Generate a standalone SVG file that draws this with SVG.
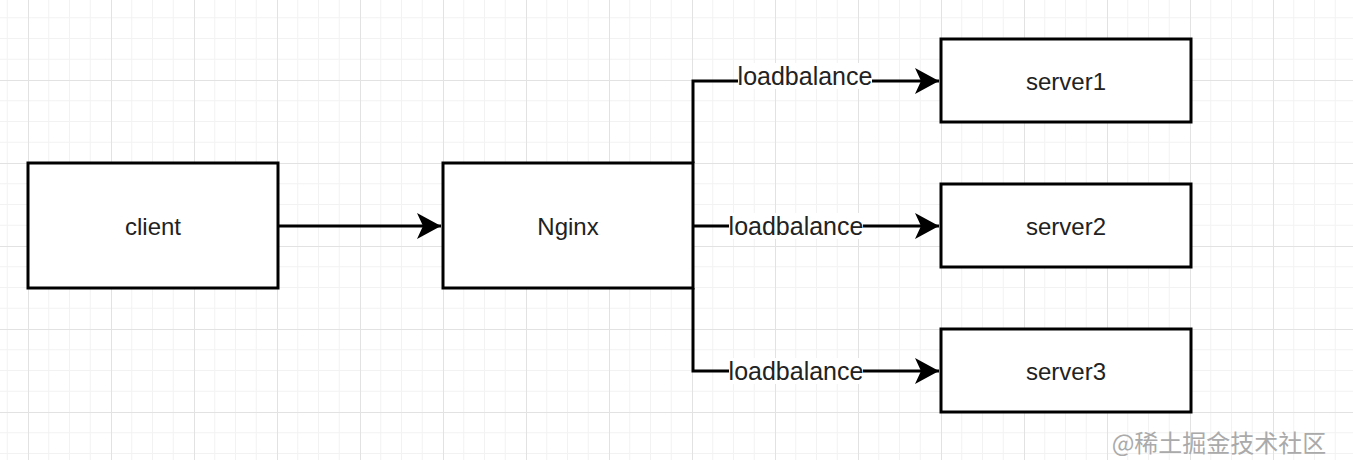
<svg xmlns="http://www.w3.org/2000/svg" width="1353" height="460" viewBox="0 0 1353 460">
<style>
.box{fill:#fff;stroke:#000;stroke-width:3}
.lbl{font-family:"Liberation Sans",Arial,sans-serif;font-size:24px;fill:#222;text-anchor:middle;dominant-baseline:central}
.edge{fill:none;stroke:#000;stroke-width:3}
.elbl{font-family:"Liberation Sans",Arial,sans-serif;font-size:25px;fill:#222;text-anchor:middle;dominant-baseline:central}
</style>
<defs>
<pattern id="grid" patternUnits="userSpaceOnUse" x="28" y="80" width="83" height="83">
<path d="M20.75 0V83M41.5 0V83M62.25 0V83M0 20.75H83M0 41.5H83M0 62.25H83" stroke="#f2f2f2" stroke-width="1" fill="none"/>
<path d="M0.5 0V83M0 0.5H83" stroke="#e2e2e2" stroke-width="1" fill="none"/>
</pattern>
<marker id="arr" markerUnits="userSpaceOnUse" markerWidth="26" markerHeight="28" refX="24" refY="13" orient="auto">
<path d="M0 0L24 13L0 26L6 13Z" fill="#000"/>
</marker>
</defs>
<rect width="1353" height="460" fill="#fff"/>
<rect width="1353" height="460" fill="url(#grid)"/>
<g id="connectors">
<path class="edge" d="M278 226H441" marker-end="url(#arr)"/>
<path class="edge" d="M693 163V81H939" marker-end="url(#arr)"/>
<path class="edge" d="M693 226H939" marker-end="url(#arr)"/>
<path class="edge" d="M693 288V371H939" marker-end="url(#arr)"/>
<rect x="738" y="63" width="134" height="26" fill="#fff"/>
<text class="elbl" x="805" y="76">loadbalance</text>
<rect x="729" y="213" width="134" height="26" fill="#fff"/>
<text class="elbl" x="796" y="226">loadbalance</text>
<rect x="729" y="358" width="134" height="26" fill="#fff"/>
<text class="elbl" x="796" y="371">loadbalance</text>
</g>
<g id="client"><rect class="box" x="28" y="163" width="250" height="125"/><text class="lbl" x="153" y="226">client</text></g>
<g id="nginx"><rect class="box" x="443" y="163" width="250" height="125"/><text class="lbl" x="568" y="226">Nginx</text></g>
<g id="server1"><rect class="box" x="941" y="39" width="250" height="83"/><text class="lbl" x="1066" y="81">server1</text></g>
<g id="server2"><rect class="box" x="941" y="184" width="250" height="83"/><text class="lbl" x="1066" y="226">server2</text></g>
<g id="server3"><rect class="box" x="941" y="329" width="250" height="83"/><text class="lbl" x="1066" y="371">server3</text></g>
<text x="1219" y="441" font-family="'Noto Sans CJK SC',sans-serif" font-size="24" fill="#aaaaaa" text-anchor="middle" dominant-baseline="central">@稀土掘金技术社区</text>
</svg>
